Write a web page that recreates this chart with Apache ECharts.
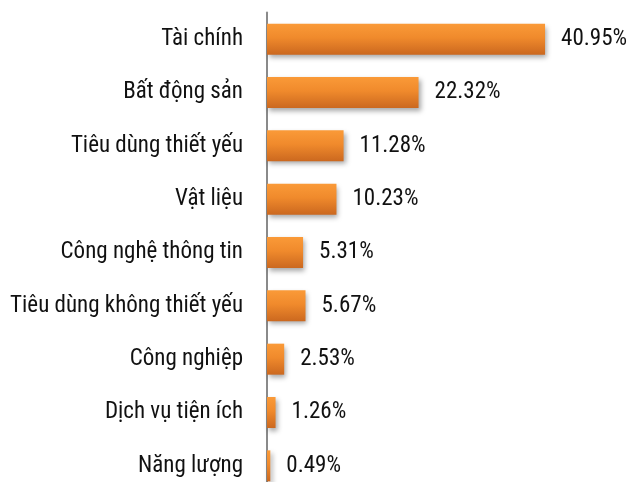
<!DOCTYPE html>
<html><head><meta charset="utf-8">
<script src="https://cdn.jsdelivr.net/npm/echarts@6/dist/echarts.min.js"></script>
<style>html,body{margin:0;padding:0;background:#fff}#c{width:634px;height:482px}</style>
</head><body><div id="c"></div>
<script>
var categories = ["Tài chính","Bất động sản","Tiêu dùng thiết yếu","Vật liệu","Công nghệ thông tin","Tiêu dùng không thiết yếu","Công nghiệp","Dịch vụ tiện ích","Năng lượng"];
var values = [40.95,22.32,11.28,10.23,5.31,5.67,2.53,1.26,0.49];
var FONT = "'Roboto Condensed','DejaVu Sans Condensed',sans-serif";
var chart = echarts.init(document.getElementById('c'));
chart.setOption({
  animation:false,
  grid:{left:267, top:12.5, width:339.5, height:480, containLabel:false, outerBoundsMode:'none'},
  xAxis:{type:'value', min:0, max:50, show:false},
  yAxis:{type:'category', data:categories, inverse:true,
    axisLine:{lineStyle:{color:'#8a8a8a', width:2}},
    axisTick:{show:false},
    axisLabel:{margin:24, color:'#111', fontSize:23, fontFamily:FONT}},
  series:[{type:'bar', data:values, barWidth:31,
    itemStyle:{
      color:new echarts.graphic.LinearGradient(0,0,0,1,[
        {offset:0,color:'#FA9A38'},{offset:0.45,color:'#F08A2C'},{offset:1,color:'#CB681F'}]),
      shadowColor:'rgba(0,0,0,0.35)', shadowBlur:5, shadowOffsetX:2, shadowOffsetY:3},
    label:{show:true, position:'right', distance:16, color:'#111', fontSize:23, fontFamily:FONT,
      formatter:function(p){return p.value.toFixed(2)+'%';}}
  }]
});
</script></body></html>
